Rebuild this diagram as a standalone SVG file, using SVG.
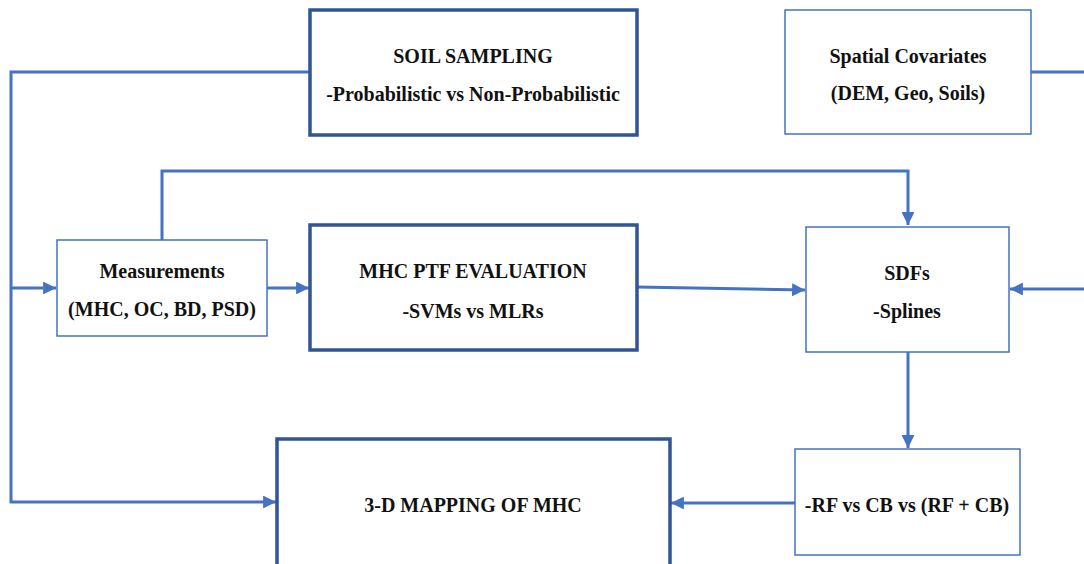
<svg xmlns="http://www.w3.org/2000/svg" width="1084" height="564" viewBox="0 0 1084 564">
<style>
.thick{fill:#fff;stroke:#2F5597;stroke-width:3.5}
.thin{fill:#fff;stroke:#4472C4;stroke-width:1.5}
.c{fill:none;stroke:#4472C4;stroke-width:3}
text{font-family:"Liberation Serif","Times New Roman",serif;font-weight:bold;font-size:20px;fill:#111;text-anchor:middle}
</style>
<defs>
<marker id="a" viewBox="0 0 10 10" refX="10" refY="5" markerWidth="4.3" markerHeight="4.3" orient="auto" markerUnits="strokeWidth">
<path d="M0,0 L10,5 L0,10 z" fill="#4472C4"/>
</marker>
</defs>
<rect width="1084" height="564" fill="#fff"/>
<g id="connectors">
<path class="c" d="M310,72 H11 V502 H276" marker-end="url(#a)"/>
<path class="c" d="M11,288 H56" marker-end="url(#a)"/>
<path class="c" d="M1031,72 H1084"/>
<path class="c" d="M162,240 V171 H908 V225" marker-end="url(#a)"/>
<path class="c" d="M267,288 H309" marker-end="url(#a)"/>
<path class="c" d="M637,287 L805,290" marker-end="url(#a)"/>
<path class="c" d="M1084,289 H1010" marker-end="url(#a)"/>
<path class="c" d="M908,352 V448" marker-end="url(#a)"/>
<path class="c" d="M795,503 H671" marker-end="url(#a)"/>
</g>
<g id="soil-sampling">
<rect class="thick" x="310" y="10" width="327" height="125"/>
<text x="473" y="63">SOIL SAMPLING</text>
<text x="473" y="101">-Probabilistic vs Non-Probabilistic</text>
</g>
<g id="spatial-covariates">
<rect class="thin" x="785" y="10" width="246" height="124"/>
<text x="908" y="63">Spatial Covariates</text>
<text x="908" y="100">(DEM, Geo, Soils)</text>
</g>
<g id="measurements">
<rect class="thin" x="57" y="240" width="210" height="96"/>
<text x="162" y="278">Measurements</text>
<text x="162" y="316">(MHC, OC, BD, PSD)</text>
</g>
<g id="mhc-ptf">
<rect class="thick" x="310" y="225" width="327" height="125"/>
<text x="473" y="278">MHC PTF EVALUATION</text>
<text x="473" y="318">-SVMs vs MLRs</text>
</g>
<g id="sdfs">
<rect class="thin" x="806" y="227" width="203" height="125"/>
<text x="907" y="280">SDFs</text>
<text x="907" y="318">-Splines</text>
</g>
<g id="rf-cb">
<rect class="thin" x="795" y="449" width="225" height="106"/>
<text x="907" y="512">-RF vs CB vs (RF + CB)</text>
</g>
<g id="mapping">
<rect class="thick" x="277" y="439" width="393" height="127"/>
<text x="473" y="512">3-D MAPPING OF MHC</text>
</g>
</svg>
